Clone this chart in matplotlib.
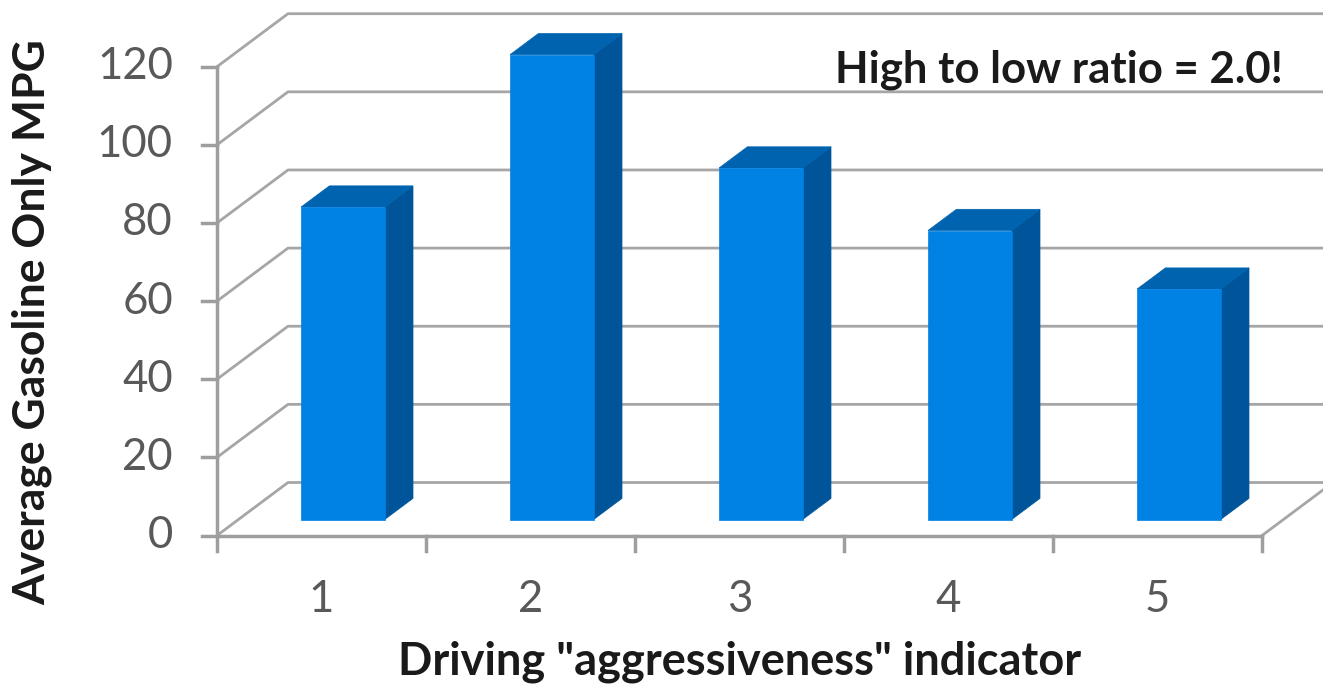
import matplotlib
matplotlib.use("Agg")
import matplotlib.pyplot as plt
from matplotlib.patches import Polygon

# Data
categories = ["1", "2", "3", "4", "5"]
mpg = [80, 119, 90, 74, 59]
y_ticks = [0, 20, 40, 60, 80, 100, 120]
x_label = 'Driving "aggressiveness" indicator'
y_label = "Average Gasoline Only MPG"
note = "High to low ratio = 2.0!"

# Figure geometry (pixels at dpi=100)
W, H = 1323, 686
X0_PX, X1_PX = 217, 1262          # front floor edge
Y0_PX, Y120_PX = 535.5, 66.7       # value 0 and value 120 on the front plane
PX_PER_CAT = (X1_PX - X0_PX) / len(categories)
PX_PER_VAL = (Y0_PX - Y120_PX) / 120.0
DEPTH_DX_PX, DEPTH_DY_PX = 71.0, 53.0

# Oblique depth offset, in data units
DX = DEPTH_DX_PX / PX_PER_CAT
DY = DEPTH_DY_PX / PX_PER_VAL

fig = plt.figure(figsize=(W / 100, H / 100), dpi=100)
ax = fig.add_axes([0, 0, 1, 1])
ax.set_xlim(-X0_PX / PX_PER_CAT, (W - X0_PX) / PX_PER_CAT)
ax.set_ylim(-(H - Y0_PX) / PX_PER_VAL, Y0_PX / PX_PER_VAL)
ax.axis("off")


def proj(x, v, z):
    """Oblique projection: category x, value v, depth z in [0, 1]."""
    return (x + z * DX, v + z * DY)


n = len(categories)
grid_c = "#A6A6A6"
axis_c = "#9E9E9E"
ymax = max(y_ticks)

# Walls: gridlines on left wall (diagonal) and back wall (horizontal)
for v in y_ticks:
    p0 = proj(0, v, 0)
    p1 = proj(0, v, 1)
    p2 = proj(n, v, 1)
    ax.plot([p0[0], p1[0], p2[0]], [p0[1], p1[1], p2[1]],
            color=grid_c, lw=2.0, zorder=1, solid_capstyle="butt")

# Floor right edge
fr0, fr1 = proj(n, 0, 0), proj(n, 0, 1)
ax.plot([fr0[0], fr1[0]], [fr0[1], fr1[1]], color=grid_c, lw=2.0, zorder=1)

# Front axes
ax.plot([0, n], [0, 0], color=axis_c, lw=2.5, zorder=2)
ax.plot([0, 0], [0, ymax], color=axis_c, lw=2.5, zorder=2)
tick_len_x = 15 / PX_PER_CAT
tick_len_y = 15 / PX_PER_VAL
for v in y_ticks:
    ax.plot([-tick_len_x, 0], [v, v], color=axis_c, lw=2.5, zorder=2)
for i in range(n + 1):
    ax.plot([i, i], [0, -tick_len_y], color=axis_c, lw=2.5, zorder=2)

# Bars
front_c = "#0081E4"
top_c = "#0063AF"
side_c = "#00559A"
half_w = 0.2
z_front, z_back = 0.3, 0.7
for i, v in enumerate(mpg):
    xl, xr = i + 0.5 - half_w, i + 0.5 + half_w
    front = [proj(xl, 0, z_front), proj(xr, 0, z_front),
             proj(xr, v, z_front), proj(xl, v, z_front)]
    top = [proj(xl, v, z_front), proj(xr, v, z_front),
           proj(xr, v, z_back), proj(xl, v, z_back)]
    side = [proj(xr, 0, z_front), proj(xr, 0, z_back),
            proj(xr, v, z_back), proj(xr, v, z_front)]
    for pts, c in ((side, side_c), (top, top_c), (front, front_c)):
        ax.add_patch(Polygon(pts, closed=True, facecolor=c,
                             edgecolor=c, lw=0.5, zorder=3))

# Tick labels
tick_font = dict(family="Lato", fontsize=31.5, color="#595959")
for v in y_ticks:
    ax.text(-44 / PX_PER_CAT, v, str(v), ha="right", va="center", **tick_font)
for i, lab in enumerate(categories):
    ax.text(i + 0.5, -(600 - Y0_PX) / PX_PER_VAL, lab,
            ha="center", va="center", **tick_font)

# Axis titles and note
bold = dict(family="Lato", fontweight="bold", color="#1A1A1A")
ax.text(n / 2, -(662 - Y0_PX) / PX_PER_VAL, x_label,
        ha="center", va="center", fontsize=32.5, **bold)
ax.text((32 - X0_PX) / PX_PER_CAT, (Y0_PX - 322) / PX_PER_VAL, y_label,
        ha="center", va="center", rotation=90, fontsize=32, **bold)
ax.text((1283 - X0_PX) / PX_PER_CAT, (Y0_PX - 70) / PX_PER_VAL, note,
        ha="right", va="center", fontsize=31.5, **bold)

fig.savefig("out.png", dpi=100)
